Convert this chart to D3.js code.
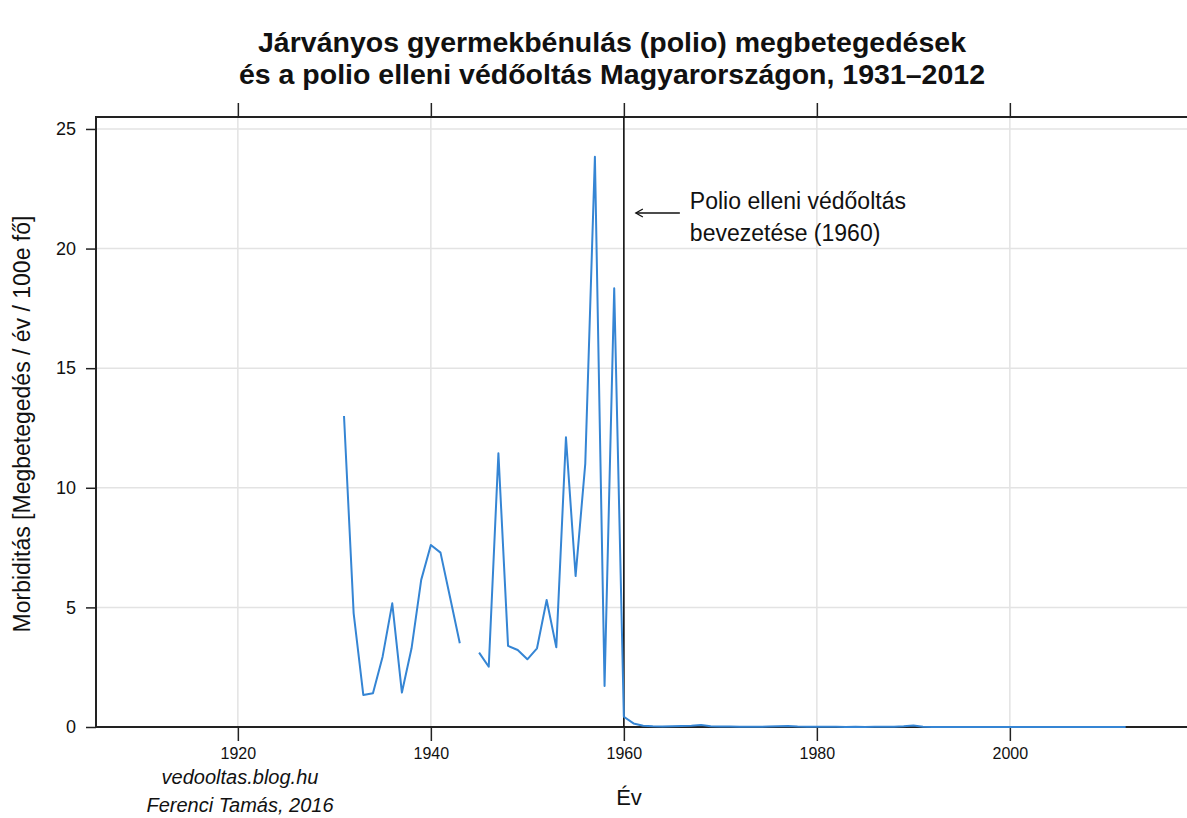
<!DOCTYPE html>
<html lang="hu">
<head>
<meta charset="UTF-8">
<script src="https://d3js.org/d3.v7.min.js"></script>
<style>
    body { margin: 0; background: #fff; }
    text { font-family: "Liberation Sans", Arial, sans-serif; fill: #111; }
</style>
</head>
<body>
<svg id="chart" width="1187" height="818"></svg>
<script>
// évek és morbiditás (megbetegedés / év / 100e fő); null = hiányzó adat
const years = d3.range(1931, 2013);
const values = [
    13.0, 4.75, 1.34, 1.41, 2.94, 5.17, 1.44, 3.29, 6.15, 7.61,   // 1931-1940
    7.29, 5.40, 3.50, null, 3.11, 2.52, 11.44, 3.39, 3.22, 2.83, // 1941-1950
    3.29, 5.31, 3.33, 12.11, 6.31, 11.0, 23.84, 1.71, 18.34, 0.43, // 1951-1960
    0.15, 0.05, 0.03, 0.02, 0.03, 0.04, 0.05, 0.08, 0.03, 0.02,  // 1961-1970
    0.02, 0.01, 0.01, 0.01, 0.02, 0.03, 0.04, 0.02, 0.01, 0.01,  // 1971-1980
    0.01, 0.01, 0.0, 0.01, 0.0, 0.01, 0.01, 0.01, 0.03, 0.06,    // 1981-1990
    0.01, 0.0, 0.0, 0.0, 0.0, 0.0, 0.0, 0.0, 0.0, 0.0,           // 1991-2000
    0.0, 0.0, 0.0, 0.0, 0.0, 0.0, 0.0, 0.0, 0.0, 0.0,            // 2001-2010
    0.0, 0.0                                                     // 2011-2012
];
const xTicks = [1920, 1940, 1960, 1980, 2000];
const yTicks = [0, 5, 10, 15, 20, 25];
const vaccineYear = 1960;
const titleLines = [
    "Járványos gyermekbénulás (polio) megbetegedések",
    "és a polio elleni védőoltás Magyarországon, 1931–2012"
];
const noteLines = ["Polio elleni védőoltás", "bevezetése (1960)"];
const creditLines = ["vedooltas.blog.hu", "Ferenci Tamás, 2016"];

const data = years.map((y, i) => ({ year: y, value: values[i] }));

const svg = d3.select("#chart");
const plotLeft = 96, plotTop = 117, plotBottom = 727;

const x = d3.scaleLinear().domain([1905.3, 2020]).range([plotLeft, plotLeft + 114.7 * 9.65]);
const y = d3.scaleLinear().domain([0, 25.5]).range([plotBottom, plotTop]);
const plotRight = x.range()[1];

// rács
svg.append("g").selectAll("line").data(xTicks).enter().append("line")
    .attr("x1", d => x(d)).attr("x2", d => x(d))
    .attr("y1", plotTop).attr("y2", plotBottom)
    .attr("stroke", "#e3e3e3").attr("stroke-width", 1.5);
svg.append("g").selectAll("line").data(yTicks).enter().append("line")
    .attr("x1", plotLeft).attr("x2", plotRight)
    .attr("y1", d => y(d)).attr("y2", d => y(d))
    .attr("stroke", "#e3e3e3").attr("stroke-width", 1.5);

// tengelyek
const axisStyle = g => {
    g.select(".domain").remove();
    g.selectAll(".tick line").attr("stroke", "#222").attr("stroke-width", 1.5);
    g.selectAll(".tick text").style("font-family", "'Liberation Sans', Arial, sans-serif").attr("fill", "#111");
};
svg.append("g").attr("transform", `translate(${plotLeft},0)`)
    .call(d3.axisLeft(y).tickValues(yTicks).tickSize(10).tickPadding(10))
    .call(axisStyle)
    .selectAll(".tick text").style("font-size", "18px");
svg.append("g").attr("transform", `translate(0,${plotBottom})`)
    .call(d3.axisBottom(x).tickValues(xTicks).tickFormat(d3.format("d")).tickSize(14).tickPadding(7))
    .call(axisStyle)
    .selectAll(".tick text").style("font-size", "16px");
svg.append("g").attr("transform", `translate(0,${plotTop})`)
    .call(d3.axisTop(x).tickValues(xTicks).tickSize(14).tickFormat(""))
    .call(axisStyle);

// keret
svg.append("path")
    .attr("d", `M${plotRight},${plotTop}H${plotLeft}V${plotBottom}H${plotRight}`)
    .attr("fill", "none").attr("stroke", "#222").attr("stroke-width", 2);

// védőoltás bevezetése
svg.append("line")
    .attr("x1", x(vaccineYear)).attr("x2", x(vaccineYear))
    .attr("y1", plotTop).attr("y2", plotBottom)
    .attr("stroke", "#111").attr("stroke-width", 1.6);

// adatsor
const line = d3.line()
    .defined(d => d.value !== null)
    .x(d => x(d.year)).y(d => y(d.value));
svg.append("path").datum(data)
    .attr("d", line)
    .attr("fill", "none").attr("stroke", "#3585d4").attr("stroke-width", 2)
    .attr("stroke-linejoin", "round");

// megjegyzés nyíllal
const ax1 = x(vaccineYear) + 56, ax2 = x(vaccineYear) + 12, ay = 213;
svg.append("line").attr("x1", ax1).attr("x2", ax2).attr("y1", ay).attr("y2", ay)
    .attr("stroke", "#111").attr("stroke-width", 1.3);
svg.append("path")
    .attr("d", `M${ax2 + 7},${ay - 4}L${ax2},${ay}L${ax2 + 7},${ay + 4}`)
    .attr("fill", "none").attr("stroke", "#111").attr("stroke-width", 1.3);
svg.append("g").selectAll("text").data(noteLines).enter().append("text")
    .attr("x", x(vaccineYear) + 66).attr("y", (d, i) => 209 + i * 32)
    .style("font-size", "23px").text(d => d);

// cím
svg.append("g").selectAll("text").data(titleLines).enter().append("text")
    .attr("x", 612).attr("y", (d, i) => 52 + i * 32)
    .attr("text-anchor", "middle")
    .style("font-size", "28.5px").style("font-weight", "bold")
    .text(d => d);

// tengelycímek
svg.append("text")
    .attr("transform", `translate(30,${(plotTop + plotBottom) / 2 + 2}) rotate(-90)`)
    .attr("text-anchor", "middle").style("font-size", "23px")
    .text("Morbiditás [Megbetegedés / év / 100e fő]");
svg.append("text")
    .attr("x", 629).attr("y", 805).attr("text-anchor", "middle")
    .style("font-size", "22px").text("Év");

// forrás
svg.append("g").selectAll("text").data(creditLines).enter().append("text")
    .attr("x", 240).attr("y", (d, i) => 784 + i * 28)
    .attr("text-anchor", "middle")
    .style("font-size", "20px").style("font-style", "italic")
    .text(d => d);
</script>
</body>
</html>
